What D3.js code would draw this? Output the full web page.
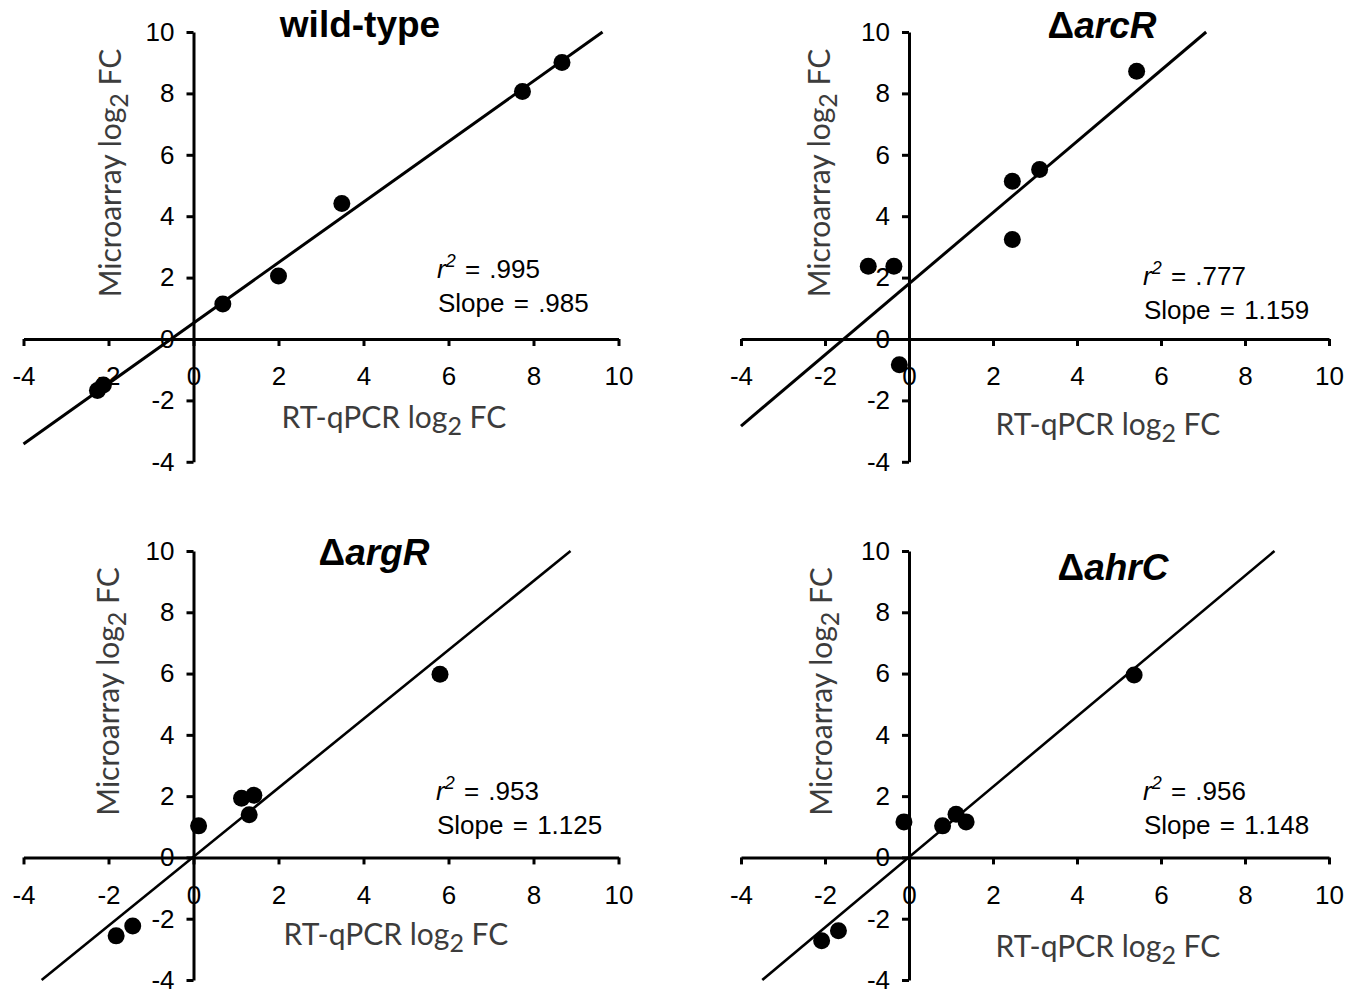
<!DOCTYPE html>
<html>
<head>
<meta charset="utf-8">
<script src="https://cdn.jsdelivr.net/npm/d3@7"></script>
<style>
  body { margin: 0; background: #fff; }
  svg { display: block; }
</style>
</head>
<body>
<svg id="chart" width="1357" height="989"></svg>
<script>
// RT-qPCR vs microarray log2 fold change, four strains.
const panelNames = ['wild-type', 'arcR', 'argR', 'ahrC']

const wildTypeX = [8.67, 7.74, 3.49, 2.0, 0.69, -2.12, -2.26]
const wildTypeY = [9.01, 8.06, 4.41, 2.05, 1.14, -1.50, -1.68]

const arcRX = [5.42, 3.11, 2.46, 2.46, -0.97, -0.36, -0.23]
const arcRY = [8.72, 5.52, 5.14, 3.24, 2.37, 2.37, -0.84]

const argRX = [5.80, 1.13, 1.42, 1.31, 0.12, -1.43, -1.82]
const argRY = [5.98, 1.93, 2.03, 1.39, 1.03, -2.24, -2.56]

const ahrCX = [5.36, 1.12, 1.36, 0.80, -0.12, -1.68, -2.08]
const ahrCY = [5.95, 1.41, 1.16, 1.03, 1.16, -2.39, -2.72]

const slopes = [0.985, 1.159, 1.125, 1.148]
const intercepts = [0.52, 1.80, 0.02, 0.01]
const r2Labels = ['.995', '.777', '.953', '.956']
const slopeLabels = ['.985', '1.159', '1.125', '1.148']

const tickValues = [-4, -2, 0, 2, 4, 6, 8, 10]
const domain = [-4, 10]

const seriesX = [wildTypeX, arcRX, argRX, ahrCX]
const seriesY = [wildTypeY, arcRY, argRY, ahrCY]

// pixel layout of each panel (axis ends, text anchors)
const LAYOUT = [
  { left: 23.5, right: 618.5, top: 32, bottom: 461.8, title: [360, 37], annot: [437, 278], xTitle: [394, 428], yTitle: 110, lw: 3 },
  { left: 741, right: 1329, top: 32, bottom: 461.8, title: [1102, 38], annot: [1143, 285], xTitle: [1108, 435], yTitle: 819, lw: 3 },
  { left: 23.5, right: 618.5, top: 551, bottom: 980, title: [374, 565], annot: [436, 800], xTitle: [396, 945], yTitle: 108, lw: 2.6 },
  { left: 741, right: 1329, top: 551, bottom: 980, title: [1113, 580], annot: [1143, 800], xTitle: [1108, 957], yTitle: 821, lw: 2.6 },
]

const FONT = '"Liberation Sans", Arial, sans-serif'
const TITLE_FONT = 'Lato, "Open Sans", sans-serif'

const svg = d3.select('#chart')

function drawPanel(i) {
  const L = LAYOUT[i]
  const x = d3.scaleLinear().domain(domain).range([L.left, L.right])
  const y = d3.scaleLinear().domain(domain).range([L.bottom, L.top])
  const g = svg.append('g')
  const fmt = (d) => String(d)

  const xAxis = g.append('g')
    .attr('transform', `translate(0,${y(0)})`)
    .call(d3.axisBottom(x).tickValues(tickValues).tickFormat(fmt).tickSize(7).tickSizeOuter(0).tickPadding(21))
  const yAxis = g.append('g')
    .attr('transform', `translate(${x(0)},0)`)
    .call(d3.axisLeft(y).tickValues(tickValues).tickFormat(fmt).tickSize(7).tickSizeOuter(0).tickPadding(12))

  for (const ax of [xAxis, yAxis]) {
    ax.attr('font-family', FONT).attr('font-size', 26)
    ax.select('.domain').attr('stroke', '#000').attr('stroke-width', 3)
    ax.selectAll('.tick line').attr('stroke', '#000').attr('stroke-width', 3)
    ax.selectAll('.tick text').attr('fill', '#000')
  }

  // fitted line, clipped to the axis box
  const m = slopes[i]
  const b = intercepts[i]
  const xs = Math.max(domain[0], (domain[0] - b) / m)
  const xe = Math.min(domain[1], (domain[1] - b) / m)
  g.append('line')
    .attr('x1', x(xs)).attr('y1', y(m * xs + b))
    .attr('x2', x(xe)).attr('y2', y(m * xe + b))
    .attr('stroke', '#000')
    .attr('stroke-width', L.lw)

  const pts = seriesX[i].map((v, k) => [v, seriesY[i][k]])
  g.append('g')
    .selectAll('circle')
    .data(pts)
    .join('circle')
    .attr('cx', (d) => x(d[0]))
    .attr('cy', (d) => y(d[1]))
    .attr('r', 8.5)
    .attr('fill', '#000')

  // panel title
  const title = g.append('text')
    .attr('x', L.title[0]).attr('y', L.title[1])
    .attr('text-anchor', 'middle')
    .attr('font-family', FONT)
    .attr('font-size', 37)
    .attr('font-weight', 'bold')
  if (i === 0) {
    title.text(panelNames[i])
  } else {
    title.append('tspan').text('\u0394')
    title.append('tspan').attr('font-style', 'italic').text(panelNames[i])
  }

  // r^2 and slope
  const a1 = g.append('text')
    .attr('x', L.annot[0]).attr('y', L.annot[1])
    .attr('font-family', FONT).attr('font-size', 26)
    .attr('word-spacing', 2)
    .attr('xml:space', 'preserve')
  a1.append('tspan').attr('font-style', 'italic').text('r')
  a1.append('tspan').attr('font-style', 'italic').attr('font-size', 18).attr('dy', -11).text('2')
  a1.append('tspan').attr('dy', 11).text(` = ${r2Labels[i]}`)
  g.append('text')
    .attr('x', L.annot[0] + 1).attr('y', L.annot[1] + 34)
    .attr('font-family', FONT).attr('font-size', 26)
    .attr('word-spacing', 2)
    .attr('xml:space', 'preserve')
    .text(`Slope = ${slopeLabels[i]}`)

  // axis titles
  const xt = g.append('text')
    .attr('x', L.xTitle[0]).attr('y', L.xTitle[1])
    .attr('text-anchor', 'middle')
    .attr('font-family', TITLE_FONT).attr('font-size', 30)
    .attr('fill', '#3c3c3c')
  xt.append('tspan').text('RT-qPCR log')
  xt.append('tspan').attr('font-size', 25).attr('dy', 7).text('2')
  xt.append('tspan').attr('dy', -7).text(' FC')

  const yCenter = y(0) - 166
  const yt = g.append('text')
    .attr('transform', `translate(${L.yTitle},${yCenter}) rotate(-90)`)
    .attr('text-anchor', 'middle')
    .attr('dy', '0.35em')
    .attr('font-family', TITLE_FONT).attr('font-size', 30)
    .attr('fill', '#3c3c3c')
  yt.append('tspan').text('Microarray log')
  yt.append('tspan').attr('font-size', 25).attr('dy', 7).text('2')
  yt.append('tspan').attr('dy', -7).text(' FC')
}

panelNames.forEach((_, i) => drawPanel(i))
</script>
</body>
</html>
